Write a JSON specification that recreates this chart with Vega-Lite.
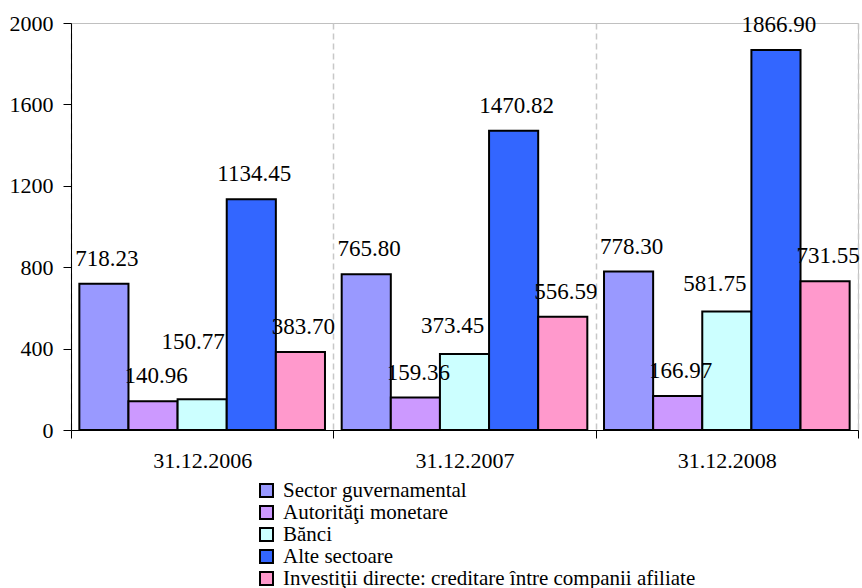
{
  "$schema": "https://vega.github.io/schema/vega-lite/v6.json",
  "width": 787,
  "height": 407,
  "autosize": {"type": "none"},
  "padding": {"left": 71, "top": 23, "right": 4, "bottom": 158},
  "background": "white",
  "config": {
    "font": "Liberation Serif, Times New Roman, DejaVu Serif, serif",
    "view": {"stroke": "#c0c0c0", "strokeWidth": 1},
    "axis": {"labelFont": "Liberation Serif, Times New Roman, DejaVu Serif, serif", "labelColor": "black", "domainColor": "black", "tickColor": "black"},
    "legend": {"labelFont": "Liberation Serif, Times New Roman, DejaVu Serif, serif"},
    "text": {"font": "Liberation Serif, Times New Roman, DejaVu Serif, serif"}
  },
  "data": {
    "values": [
      {"date": "31.12.2006", "series": "Sector guvernamental", "value": 718.23},
      {"date": "31.12.2006", "series": "Autorităţi monetare", "value": 140.96},
      {"date": "31.12.2006", "series": "Bănci", "value": 150.77},
      {"date": "31.12.2006", "series": "Alte sectoare", "value": 1134.45},
      {"date": "31.12.2006", "series": "Investiţii directe: creditare între companii afiliate", "value": 383.70},
      {"date": "31.12.2007", "series": "Sector guvernamental", "value": 765.80},
      {"date": "31.12.2007", "series": "Autorităţi monetare", "value": 159.36},
      {"date": "31.12.2007", "series": "Bănci", "value": 373.45},
      {"date": "31.12.2007", "series": "Alte sectoare", "value": 1470.82},
      {"date": "31.12.2007", "series": "Investiţii directe: creditare între companii afiliate", "value": 556.59},
      {"date": "31.12.2008", "series": "Sector guvernamental", "value": 778.30},
      {"date": "31.12.2008", "series": "Autorităţi monetare", "value": 166.97},
      {"date": "31.12.2008", "series": "Bănci", "value": 581.75},
      {"date": "31.12.2008", "series": "Alte sectoare", "value": 1866.90},
      {"date": "31.12.2008", "series": "Investiţii directe: creditare între companii afiliate", "value": 731.55}
    ]
  },
  "encoding": {
    "x": {
      "field": "date", "type": "nominal", "title": null,
      "scale": {"paddingInner": 0, "paddingOuter": 0},
      "axis": {
        "labelAngle": 0, "labelFontSize": 22, "labelPadding": 12, "tickSize": 8,
        "tickBand": "extent", "grid": true, "gridDash": [6, 4], "gridColor": "#c8c8c8", "gridWidth": 1.5,
        "domainWidth": 1
      }
    },
    "xOffset": {
      "field": "series", "type": "nominal",
      "sort": ["Sector guvernamental", "Autorităţi monetare", "Bănci", "Alte sectoare", "Investiţii directe: creditare între companii afiliate"],
      "scale": {"paddingInner": 0, "paddingOuter": 0.17}
    },
    "y": {
      "field": "value", "type": "quantitative", "title": null,
      "scale": {"domain": [0, 2000], "nice": false},
      "axis": {"values": [0, 400, 800, 1200, 1600, 2000], "format": "d", "grid": false, "labelFontSize": 22, "labelPadding": 10, "tickSize": 8}
    }
  },
  "layer": [
    {
      "mark": {"type": "bar", "stroke": "black", "strokeWidth": 2},
      "encoding": {
        "color": {
          "field": "series", "type": "nominal",
          "sort": ["Sector guvernamental", "Autorităţi monetare", "Bănci", "Alte sectoare", "Investiţii directe: creditare între companii afiliate"],
          "scale": {
            "domain": ["Sector guvernamental", "Autorităţi monetare", "Bănci", "Alte sectoare", "Investiţii directe: creditare între companii afiliate"],
            "range": ["#9999FF", "#CC99FF", "#CCFFFF", "#3366FF", "#FF99CC"]
          },
          "legend": {
            "title": null, "orient": "none", "legendX": 185, "legendY": 457,
            "direction": "vertical", "padding": 0, "rowPadding": 0,
            "symbolType": "square", "symbolSize": 169, "symbolStrokeColor": "black", "symbolStrokeWidth": 2,
            "labelFontSize": 21, "labelColor": "black", "labelOffset": 6, "labelLimit": 0
          }
        }
      }
    },
    {
      "transform": [{"filter": "datum.series !== 'Bănci'"}],
      "mark": {"type": "text", "fontSize": 23, "color": "black", "baseline": "middle", "dx": 3, "dy": -25},
      "encoding": {
        "text": {"field": "value", "type": "quantitative", "format": ".2f"}
      }
    },
    {
      "transform": [{"filter": "datum.series === 'Bănci' && datum.date !== '31.12.2006'"}],
      "mark": {"type": "text", "fontSize": 23, "color": "black", "baseline": "middle", "dx": -12, "dy": -28},
      "encoding": {
        "text": {"field": "value", "type": "quantitative", "format": ".2f"}
      }
    },
    {
      "transform": [{"filter": "datum.series === 'Bănci' && datum.date === '31.12.2006'"}],
      "mark": {"type": "text", "fontSize": 23, "color": "black", "baseline": "middle", "dx": -9, "dy": -57},
      "encoding": {
        "text": {"field": "value", "type": "quantitative", "format": ".2f"}
      }
    }
  ]
}
